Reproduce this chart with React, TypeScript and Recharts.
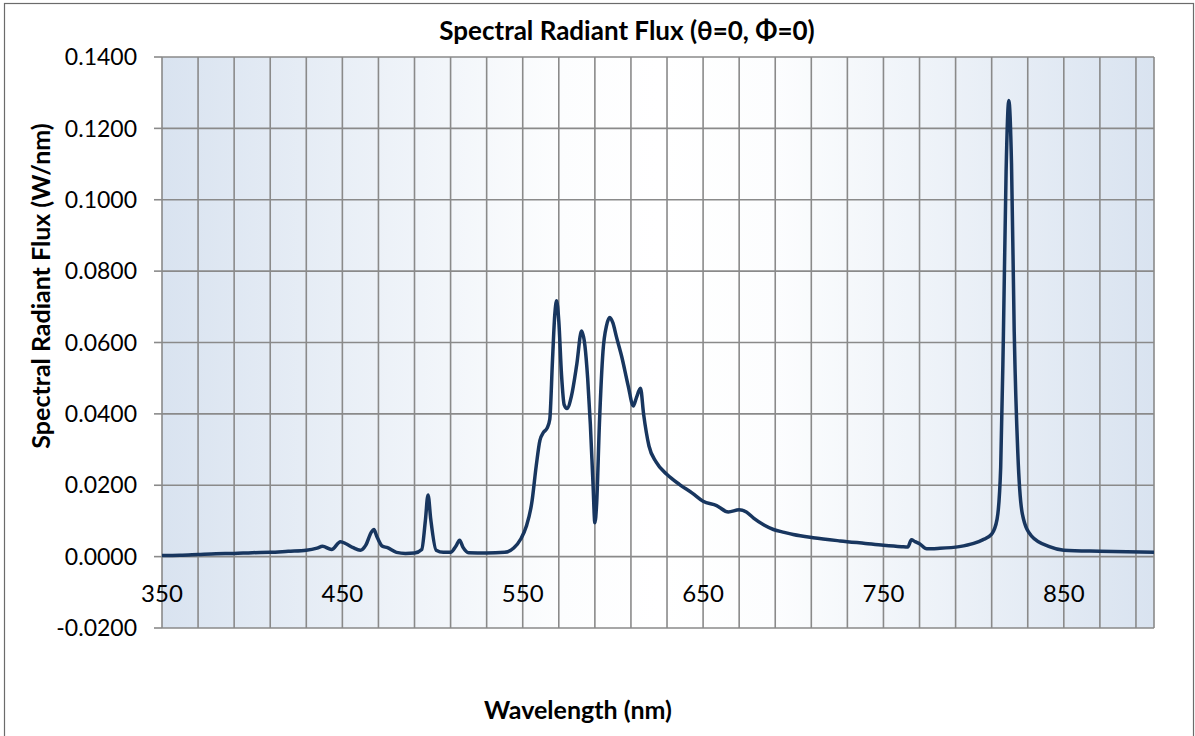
import React from "react";
import {
  LineChart,
  Line,
  XAxis,
  YAxis,
  CartesianGrid,
} from "recharts";

// wavelength (nm)
const wavelengths = [
  350, 360, 370, 380, 390, 400, 410, 420, 430, 436, 439, 444, 449, 452, 456,
  460, 463, 466, 467.5, 469, 472, 475, 480, 485, 490, 494, 496, 497.5, 499,
  502, 506, 510, 513, 515, 517, 520, 530, 540, 545, 549, 552, 555, 557.5,
  559.5, 561.5, 563.5, 565, 566.5, 567.8, 568.8, 570, 571.5, 573, 574.5, 577,
  580, 582.6, 584.5, 586, 587.5, 589, 590, 591, 592.5, 594.5, 596.5, 598.3,
  600, 602, 605, 608.5, 611.3, 613, 615.3, 617, 620, 624, 630, 637, 644, 650,
  657.5, 664, 670, 674, 678, 684, 689, 695, 700, 711, 726, 740, 750, 760,
  763.5, 765.5, 767.5, 770, 774, 780, 792, 800, 805, 810, 813, 815, 816.5,
  818, 819.5, 821, 822.5, 824.5, 827, 832, 842, 850, 870, 900,
];

// spectral radiant flux (W/nm)
const flux = [
  0.0003, 0.0004, 0.0006, 0.0008, 0.0009, 0.0011, 0.0012, 0.0015, 0.0018,
  0.0024, 0.0029, 0.002, 0.0042, 0.0036, 0.0025, 0.0018, 0.0032, 0.0068,
  0.0076, 0.0058, 0.003, 0.0025, 0.0012, 0.0009, 0.001, 0.002, 0.01, 0.0173,
  0.0105, 0.0018, 0.0012, 0.0012, 0.003, 0.0046, 0.0025, 0.0011, 0.001,
  0.0012, 0.0024, 0.005, 0.0085, 0.015, 0.0255, 0.0325, 0.0348, 0.036,
  0.0385, 0.055, 0.068, 0.0717, 0.066, 0.051, 0.0425, 0.0415, 0.045, 0.054,
  0.0632, 0.059, 0.05, 0.037, 0.02, 0.0095, 0.015, 0.037, 0.0575, 0.0648,
  0.067, 0.0655, 0.0615, 0.0558, 0.0478, 0.0422, 0.0445, 0.0472, 0.04, 0.031,
  0.0265, 0.023, 0.0202, 0.0178, 0.0155, 0.0143, 0.0125, 0.0131, 0.0125,
  0.0108, 0.0088, 0.0076, 0.0068, 0.0062, 0.0053, 0.0044, 0.0037, 0.0032,
  0.0028, 0.0027, 0.0047, 0.0042, 0.0036, 0.0022, 0.0023, 0.0028, 0.0037,
  0.0047, 0.0063, 0.0105, 0.025, 0.062, 0.108, 0.1278, 0.11, 0.063, 0.029,
  0.012, 0.0058, 0.0028, 0.0018, 0.0015, 0.0012,
];

const xGridTicks = [
  350, 370, 390, 410, 430, 450, 470, 490, 510, 530, 550, 570, 590, 610, 630,
  650, 670, 690, 710, 730, 750, 770, 790, 810, 830, 850, 870, 890,
];
const xLabelTicks = [350, 450, 550, 650, 750, 850];
const yTicks = [-0.02, 0, 0.02, 0.04, 0.06, 0.08, 0.1, 0.12, 0.14];

const FONT = "Lato, 'Open Sans', sans-serif";
const LINE_COLOR = "#18365f";
const GRID_COLOR = "#8a8a8a";

const data = wavelengths.map((wl, i) => ({ wl, flux: flux[i] }));

function XTick(props: any) {
  const { x, payload } = props;
  if (!xLabelTicks.includes(payload.value)) return null;
  return (
    <text
      x={x}
      y={592}
      textAnchor="middle"
      dominantBaseline="central"
      fontFamily={FONT}
      fontSize={24}
      fill="#000"
    >
      {payload.value}
    </text>
  );
}

export default function App() {
  return (
    <div
      style={{
        position: "absolute",
        left: 0,
        top: 0,
        width: 1195,
        height: 736,
        background: "#fff",
        overflow: "hidden",
      }}
    >
      <LineChart
        width={1195}
        height={736}
        data={data}
        margin={{ top: 57, right: 41, bottom: 78, left: 102 }}
      >
        <defs>
          <linearGradient id="plotBg" x1="0" y1="0" x2="1" y2="0">
            <stop offset="0%" stopColor="#d9e3f0" />
            <stop offset="40%" stopColor="#fcfdfe" />
            <stop offset="50%" stopColor="#ffffff" />
            <stop offset="62%" stopColor="#fcfdfe" />
            <stop offset="100%" stopColor="#d9e3f0" />
          </linearGradient>
        </defs>
        <CartesianGrid
          stroke={GRID_COLOR}
          strokeWidth={1.6}
          fill="url(#plotBg)"
          fillOpacity={1}
        />
        <XAxis
          dataKey="wl"
          type="number"
          domain={[350, 900]}
          ticks={xGridTicks}
          interval={0}
          allowDataOverflow
          axisLine={false}
          tickLine={false}
          height={30}
          tick={<XTick />}
        />
        <YAxis
          type="number"
          domain={[-0.02, 0.14]}
          ticks={yTicks}
          interval={0}
          width={60}
          axisLine={false}
          tickSize={8}
          tickMargin={17}
          tickLine={{ stroke: GRID_COLOR, strokeWidth: 1.6 }}
          tickFormatter={(v: number) => v.toFixed(4)}
          tick={{ fontFamily: FONT, fontSize: 23, fill: "#000" }}
        />
        <Line
          type="monotone"
          dataKey="flux"
          stroke={LINE_COLOR}
          strokeWidth={3.5}
          dot={false}
          isAnimationActive={false}
        />
      </LineChart>
      <svg
        width={1195}
        height={736}
        style={{ position: "absolute", left: 0, top: 0, pointerEvents: "none" }}
      >
        <rect
          x={4.5}
          y={3.5}
          width={1189}
          height={760}
          fill="none"
          stroke="#6b6b6b"
          strokeWidth={1.2}
        />
        <text
          x={627}
          y={30}
          textAnchor="middle"
          dominantBaseline="central"
          fontFamily={FONT}
          fontWeight="bold"
          fontSize={26}
          fill="#000"
        >
          Spectral Radiant Flux (θ=0, Φ=0)
        </text>
        <text
          x={578}
          y={709}
          textAnchor="middle"
          dominantBaseline="central"
          fontFamily={FONT}
          fontWeight="bold"
          fontSize={25}
          fill="#000"
        >
          Wavelength (nm)
        </text>
        <text
          transform="translate(40, 286) rotate(-90)"
          textAnchor="middle"
          dominantBaseline="central"
          fontFamily={FONT}
          fontWeight="bold"
          fontSize={25}
          fill="#000"
        >
          Spectral Radiant Flux (W/nm)
        </text>
      </svg>
    </div>
  );
}
